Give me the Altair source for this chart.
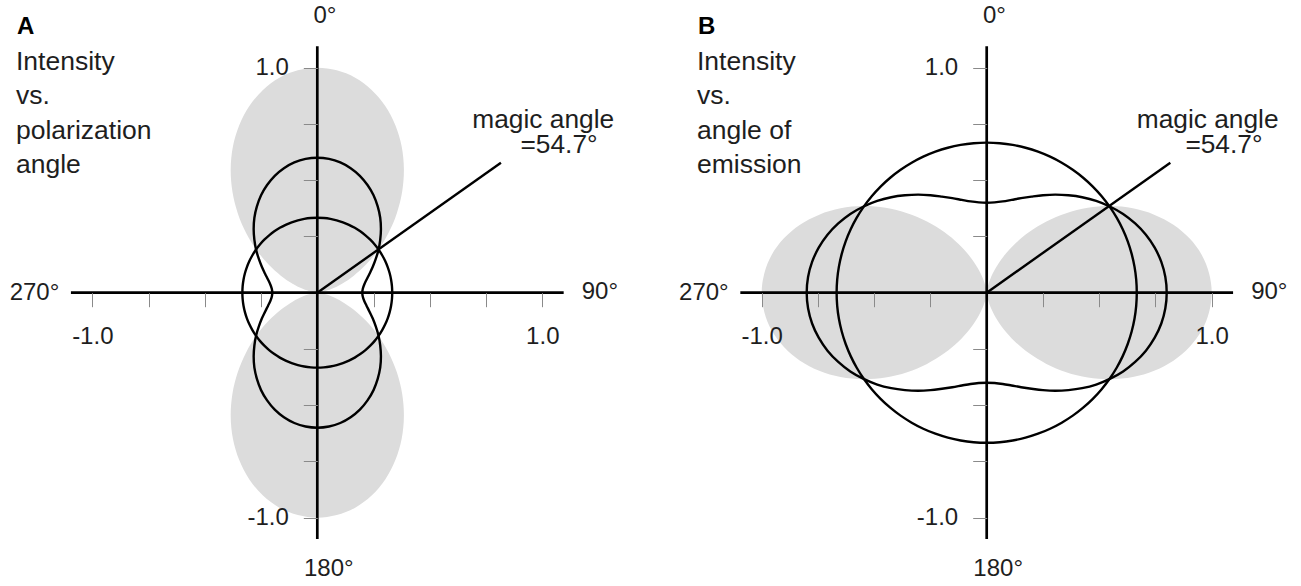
import altair as alt
import pandas as pd

# Sample angles over one quarter turn, in degrees clockwise from the 0° direction
QUARTER_ANGLES = [0, 5, 10, 15, 20, 25, 30, 35, 40, 45, 50, 55, 60, 65, 70, 75, 80, 85, 90]

# Panel A: intensity vs. polarization angle (radii over a quarter turn)
A_SHADED = [1.000, 0.992, 0.970, 0.933, 0.883, 0.821, 0.750, 0.671, 0.587, 0.500,
            0.413, 0.329, 0.250, 0.179, 0.117, 0.067, 0.030, 0.008, 0.000]
A_CURVE = [0.600, 0.597, 0.588, 0.573, 0.553, 0.528, 0.500, 0.468, 0.435, 0.400,
           0.365, 0.332, 0.300, 0.272, 0.247, 0.227, 0.212, 0.203, 0.200]
A_CIRCLE = 0.333

# Panel B: intensity vs. angle of emission (radii over a quarter turn)
B_SHADED = [0.000, 0.008, 0.030, 0.067, 0.117, 0.179, 0.250, 0.329, 0.413, 0.500,
            0.587, 0.671, 0.750, 0.821, 0.883, 0.933, 0.970, 0.992, 1.000]
B_CURVE = [0.400, 0.403, 0.412, 0.427, 0.447, 0.471, 0.500, 0.532, 0.565, 0.600,
           0.635, 0.668, 0.700, 0.728, 0.753, 0.773, 0.788, 0.797, 0.800]
B_CIRCLE = 0.667

MAGIC_ANGLE = 54.7
MAGIC_LENGTH = 1.0
AXIS_TICKS = [-1.0, -0.75, -0.5, -0.25, 0.25, 0.5, 0.75, 1.0]
AXIS_REACH = 1.095

FONT = "Liberation Sans"
GREY = "#dcdcdc"
INK = "#1e1e1e"
H = 586
PX_PER_UNIT = 225.0
ORIGIN_Y = 292.7


def full_turn(quarter):
    """Unfold a quarter-turn of radii into a full turn using the shapes' mirror symmetry."""
    rows = []
    n = len(quarter) - 1
    for i in range(4 * n):
        a = i * 5
        if i <= n:
            r = quarter[i]
        elif i <= 2 * n:
            r = quarter[2 * n - i]
        elif i <= 3 * n:
            r = quarter[i - 2 * n]
        else:
            r = quarter[4 * n - i]
        rows.append({"angle": a, "r": r})
    return rows


def curves_frame(shaded, curve, circle):
    rows = []
    for row in full_turn(shaded):
        rows.append({**row, "shape": "shaded"})
    for row in full_turn(curve):
        rows.append({**row, "shape": "curve"})
    for row in full_turn([circle] * len(QUARTER_ANGLES)):
        rows.append({**row, "shape": "circle"})
    return pd.DataFrame(rows)


def panel(letter, caption, shaded, curve, circle, width, origin_x, text_x, magic_x):
    x_dom = [-origin_x / PX_PER_UNIT, (width - origin_x) / PX_PER_UNIT]
    y_dom = [-(H - ORIGIN_Y) / PX_PER_UNIT, ORIGIN_Y / PX_PER_UNIT]
    xs = alt.Scale(domain=x_dom, nice=False, zero=False)
    ys = alt.Scale(domain=y_dom, nice=False, zero=False)
    common_axis = dict(
        values=AXIS_TICKS, domain=False, grid=False, title=None, zindex=1,
        tickColor="#8a8a8a", tickWidth=1, tickSize=14,
        labelFont=FONT, labelFontSize=24, labelColor=INK,
        labelExpr="datum.value == 1 ? '1.0' : (datum.value == -1 ? '-1.0' : '')",
        labelOverlap=False, labelFlush=False,
    )
    X = alt.X("x:Q", scale=xs, axis=alt.Axis(orient="bottom", offset=-(H - ORIGIN_Y),
                                             labelPadding=18, **common_axis))
    Y = alt.Y("y:Q", scale=ys, axis=alt.Axis(orient="left", offset=-origin_x,
                                             labelPadding=15, **common_axis))

    base = alt.Chart(curves_frame(shaded, curve, circle)).transform_calculate(
        x="datum.r * sin(datum.angle * PI / 180)",
        y="datum.r * cos(datum.angle * PI / 180)",
    )
    fill = base.transform_filter(alt.datum.shape == "shaded").mark_line(
        filled=True, color=GREY, interpolate="cardinal-closed"
    ).encode(x=X, y=Y, order=alt.Order("angle:Q"))
    lines = base.transform_filter(alt.datum.shape != "shaded").mark_line(
        color="black", strokeWidth=2.4, interpolate="cardinal-closed"
    ).encode(x=X, y=Y, order=alt.Order("angle:Q"), detail="shape:N")

    magic = alt.Chart(pd.DataFrame({"angle": [MAGIC_ANGLE, MAGIC_ANGLE], "r": [0.0, MAGIC_LENGTH]})
                      ).transform_calculate(
        x="datum.r * sin(datum.angle * PI / 180)",
        y="datum.r * cos(datum.angle * PI / 180)",
    ).mark_line(color="black", strokeWidth=2.4).encode(x=X, y=Y, order="r:Q")

    x_axis_line = alt.Chart().mark_rule(color="black", strokeWidth=2.7).encode(
        x=alt.datum(-AXIS_REACH, scale=xs), x2=alt.datum(AXIS_REACH), y=alt.datum(0.0, scale=ys))
    y_axis_line = alt.Chart().mark_rule(color="black", strokeWidth=2.7).encode(
        y=alt.datum(-AXIS_REACH, scale=ys), y2=alt.datum(AXIS_REACH), x=alt.datum(0.0, scale=xs))

    def dtext(txt, x, y, align="center", baseline="middle", size=24):
        return alt.Chart().mark_text(
            text=txt, font=FONT, fontSize=size, color=INK, align=align, baseline=baseline
        ).encode(x=alt.datum(x, scale=xs), y=alt.datum(y, scale=ys))

    degree_labels = [
        dtext("0°", 0.034, 1.232),
        dtext("180°", 0.051, -1.230),
        dtext("270°", -1.257, 0.0),
        dtext("90°", 1.256, 0.004),
    ]
    magic_text = [
        dtext("magic angle", magic_x[0], 0.731, align="left", baseline="alphabetic", size=26.3),
        dtext("=54.7°", magic_x[1], 0.622, align="left", baseline="alphabetic", size=26.3),
    ]

    letter_mark = alt.Chart().mark_text(
        text=letter, font=FONT, fontSize=24, fontWeight="bold", color="black",
        align="left", baseline="alphabetic"
    ).encode(x=alt.value(text_x + 1), y=alt.value(34))
    caption_marks = [
        alt.Chart().mark_text(
            text=line, font=FONT, fontSize=26.5, color=INK, align="left", baseline="alphabetic"
        ).encode(x=alt.value(text_x), y=alt.value(70 + 34.4 * i))
        for i, line in enumerate(caption)
    ]

    return alt.layer(
        fill, x_axis_line, y_axis_line, lines, magic,
        *degree_labels, *magic_text, letter_mark, *caption_marks
    ).properties(width=width, height=H)


panel_a = panel("A", ["Intensity", "vs.", "polarization", "angle"],
                A_SHADED, A_CURVE, A_CIRCLE,
                width=650, origin_x=317.3, text_x=16, magic_x=[0.689, 0.903])
panel_b = panel("B", ["Intensity", "vs.", "angle of", "emission"],
                B_SHADED, B_CURVE, B_CIRCLE,
                width=632, origin_x=317.7, text_x=28, magic_x=[0.667, 0.883])

chart = alt.hconcat(panel_a, panel_b, spacing=19, bounds="flush").properties(
    padding=0, background="white"
).configure_view(stroke=None)

chart.save("out.html", embed_options={"renderer": "svg", "actions": False})
